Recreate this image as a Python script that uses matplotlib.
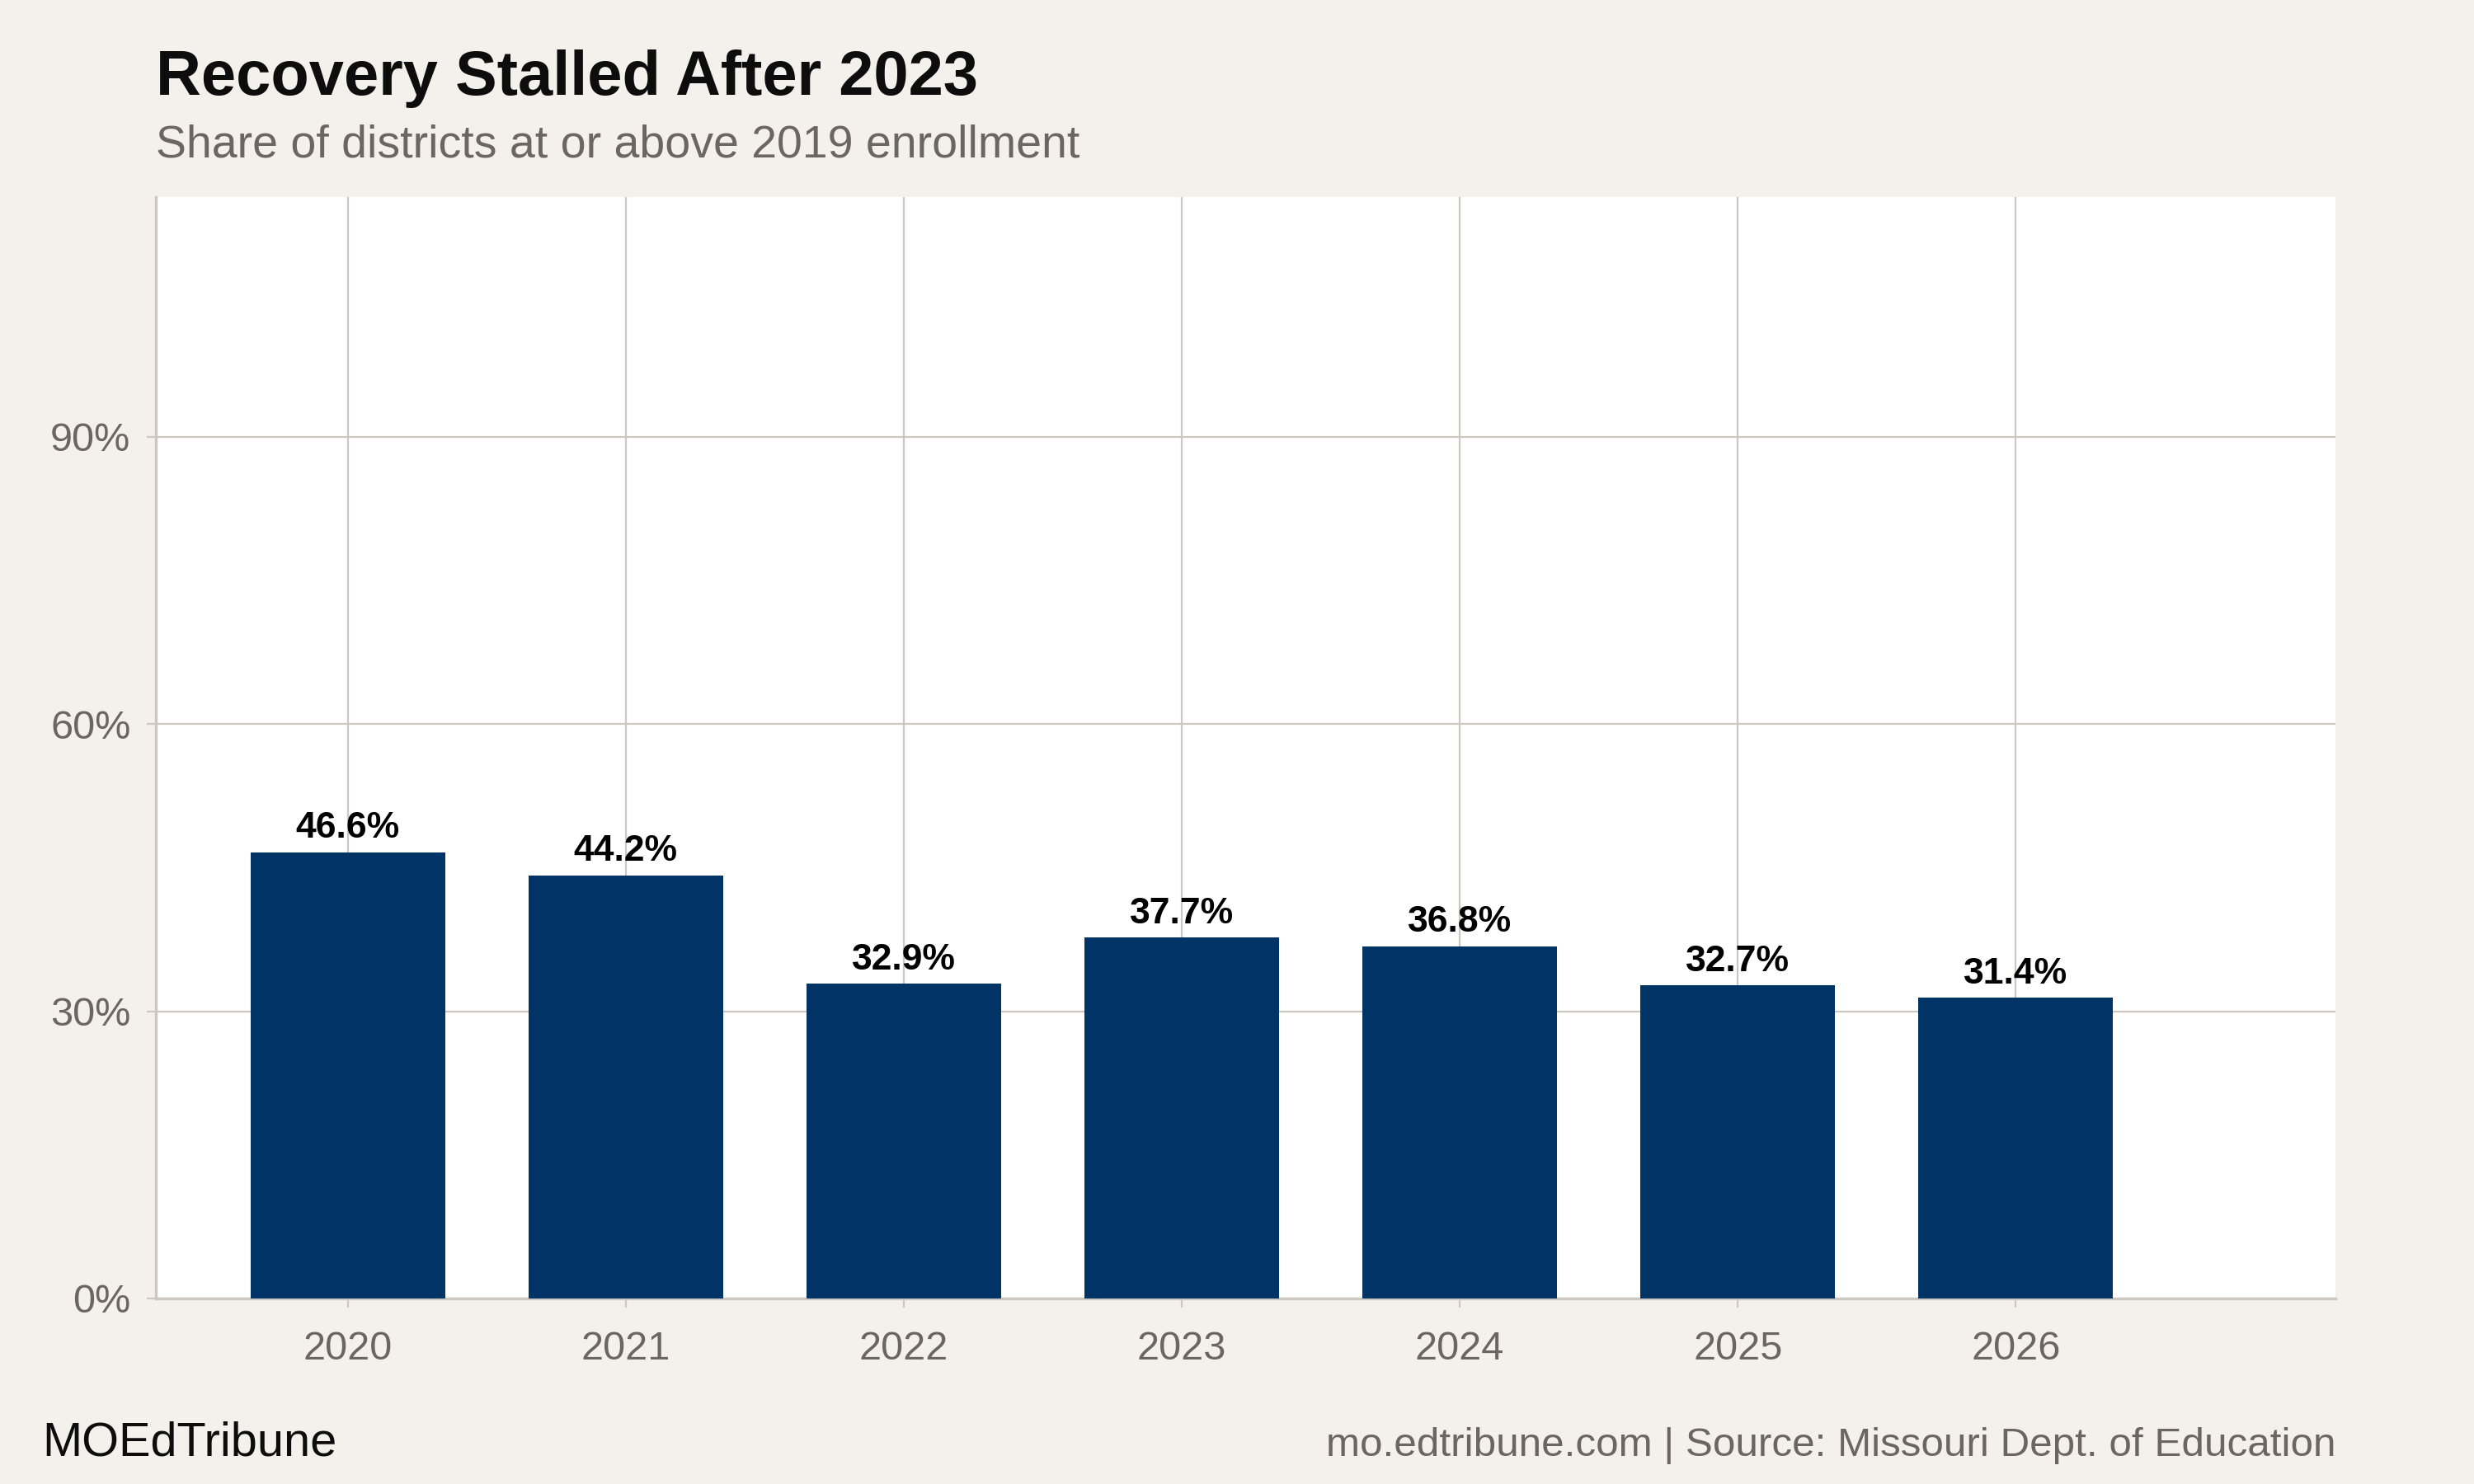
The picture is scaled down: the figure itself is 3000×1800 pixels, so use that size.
import matplotlib.pyplot as plt
from matplotlib.ticker import FuncFormatter

# --- Data ---
years = [2020, 2021, 2022, 2023, 2024, 2025, 2026]
share_pct = [46.6, 44.2, 32.9, 37.7, 36.8, 32.7, 31.4]
y_ticks = [0, 30, 60, 90]

# --- Style ---
bg = "#f4f1ec"
bar_color = "#003366"
grid_color = "#cdc8bf"
grey_text = "#6b6760"
plt.rcParams["font.family"] = ["Liberation Sans", "DejaVu Sans"]

fig = plt.figure(figsize=(15, 9), dpi=200, facecolor=bg)
ax = fig.add_axes([0.063, 0.125, 0.881, 0.742])
ax.set_facecolor("white")

ax.bar(years, share_pct, width=0.7, color=bar_color, zorder=3)
for x, v in zip(years, share_pct):
    ax.annotate(f"{v:.1f}%", (x, v), xytext=(0, 3), textcoords="offset points",
                ha="center", va="bottom", fontsize=16, fontweight="bold",
                color="black", zorder=4)

ax.set_xlim(2019.31, 2027.15)
ax.set_ylim(0, 115)
ax.set_xticks(years)
ax.set_yticks(y_ticks)
ax.yaxis.set_major_formatter(FuncFormatter(lambda v, p: f"{v:.0f}%"))

ax.grid(True, color=grid_color, linewidth=0.8, zorder=0)
for side in ["top", "right"]:
    ax.spines[side].set_visible(False)
for side in ["left", "bottom"]:
    ax.spines[side].set_color(grid_color)
    ax.spines[side].set_linewidth(1.2)
ax.tick_params(axis="both", colors=grid_color, labelcolor=grey_text,
               labelsize=17.5, length=4, width=0.8)
ax.tick_params(axis="x", pad=10)
ax.tick_params(axis="y", pad=7)

# --- Titles and footer ---
fig.text(0.063, 0.936, "Recovery Stalled After 2023", fontsize=27.3,
         fontweight="bold", color="#0d0d0d", ha="left", va="baseline")
fig.text(0.063, 0.894, "Share of districts at or above 2019 enrollment",
         fontsize=20, color=grey_text, ha="left", va="baseline")
fig.text(0.017, 0.019, "MOEdTribune", fontsize=20.8, color="#0d0d0d",
         ha="left", va="baseline")
fig.text(0.944, 0.019, "mo.edtribune.com | Source: Missouri Dept. of Education",
         fontsize=17.8, color=grey_text, ha="right", va="baseline")

fig.savefig("out.png", dpi=200, facecolor=bg)
